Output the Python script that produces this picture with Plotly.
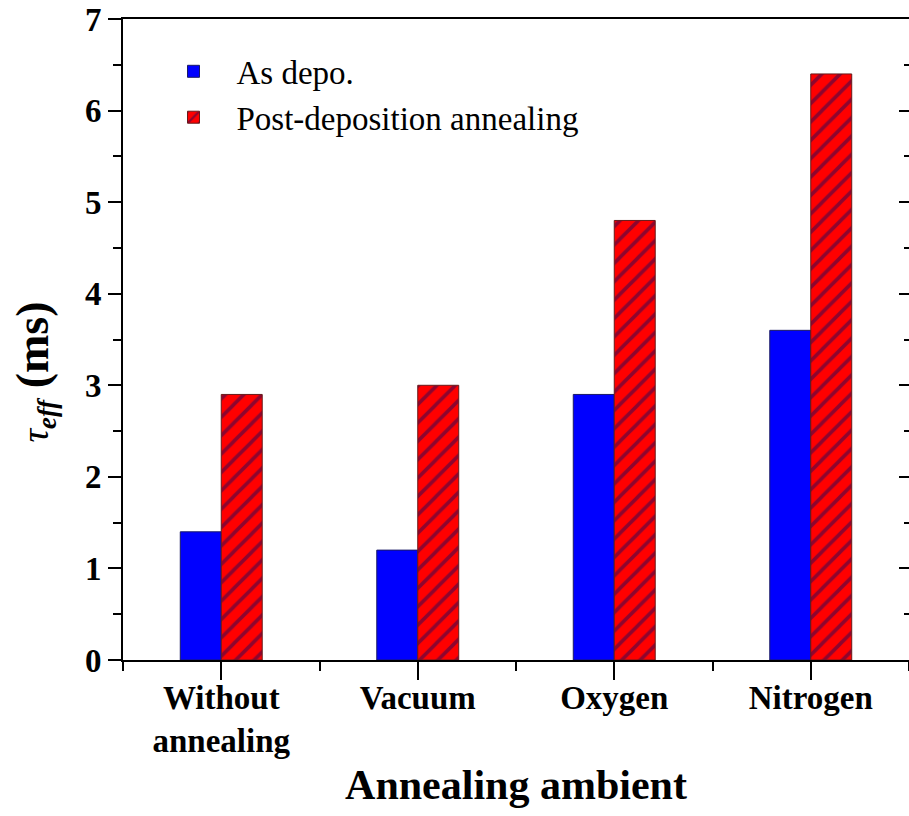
import plotly.graph_objects as go

categories = ["Without<br>annealing", "Vacuum", "Oxygen", "Nitrogen"]
x_pos = [0, 1, 2, 3]
as_depo = [1.4, 1.2, 2.9, 3.6]
post_anneal = [2.9, 3.0, 4.8, 6.4]
y_ticks = [0, 1, 2, 3, 4, 5, 6, 7]

FONT = "Liberation Serif"

fig = go.Figure()
fig.add_trace(go.Bar(
    x=x_pos, y=as_depo, name="As depo.",
    marker=dict(color="#0000ff", line=dict(color="#1a1a66", width=1)),
))
fig.add_trace(go.Bar(
    x=x_pos, y=post_anneal, name="Post-deposition annealing",
    marker=dict(color="#ff0000", line=dict(color="#661a1a", width=1),
                pattern=dict(shape="/", fgcolor="#1e0a5c", size=13, solidity=0.28)),
))
# invisible trace to anchor the right-hand mirrored axis
fig.add_trace(go.Scatter(x=[x_pos[0]], y=[0], yaxis="y2", mode="markers",
                         marker=dict(opacity=0), showlegend=False, hoverinfo="skip"))

fig.update_layout(
    width=909, height=816,
    margin=dict(l=123, r=0, t=19, b=156),
    paper_bgcolor="white", plot_bgcolor="white",
    barmode="group", bargap=0.583, bargroupgap=0,
    font=dict(family=FONT, color="black"),
    showlegend=True,
    legend=dict(x=0.035, y=0.962, xanchor="left", yanchor="top",
                font=dict(family=FONT, size=33, color="black"),
                bgcolor="rgba(0,0,0,0)", tracegroupgap=0, itemwidth=76),
    xaxis=dict(
        range=[-0.5, 3.5], tickmode="array", tickvals=x_pos, ticktext=categories,
        ticks="outside", ticklen=18, tickwidth=2, tickcolor="black",
        showline=True, linewidth=2, linecolor="black", mirror=True,
        showgrid=False, zeroline=False, ticklabelstandoff=-11,
        tickfont=dict(family=FONT, size=33, color="black", weight="bold"),
        minor=dict(tickmode="array", tickvals=[-0.5, 0.5, 1.5, 2.5, 3.5],
                   ticks="outside", ticklen=9, tickwidth=2, tickcolor="black"),
        title=dict(text="<b>Annealing ambient</b>", font=dict(family=FONT, size=42, color="black"),
                   standoff=12),
    ),
    yaxis=dict(
        range=[0, 7], tickmode="array", tickvals=y_ticks,
        ticks="outside", ticklen=13, tickwidth=2, tickcolor="black",
        showline=True, linewidth=2, linecolor="black", mirror=False,
        showgrid=False, zeroline=False,
        tickfont=dict(family=FONT, size=33, color="black", weight="bold"),
        minor=dict(dtick=0.5, tick0=0, ticks="outside", ticklen=8, tickwidth=2, tickcolor="black"),
    ),
    yaxis2=dict(
        range=[0, 7], overlaying="y", side="right", tickmode="array", tickvals=y_ticks,
        ticks="inside", ticklen=10, tickwidth=2, tickcolor="black",
        showticklabels=False, showline=False, showgrid=False, zeroline=False,
        minor=dict(dtick=0.5, tick0=0, ticks="inside", ticklen=5, tickwidth=2, tickcolor="black"),
    ),
    annotations=[dict(
        text="<i>τ</i><sub><i><b>eff</b></i></sub><b><span style='font-size:46px'> (ms)</span></b>",
        xref="paper", yref="paper", x=-0.112, y=0.45, xanchor="center", yanchor="middle",
        textangle=-90, showarrow=False, font=dict(family=FONT, size=38, color="black"),
    )],
)

fig.write_html("out.html")
